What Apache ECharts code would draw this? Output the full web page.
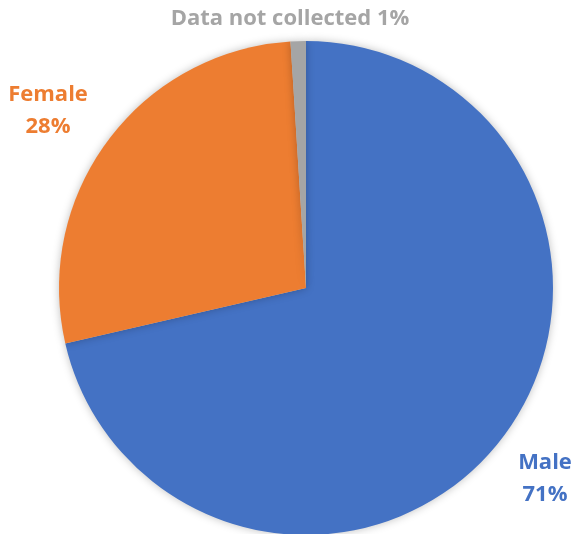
<!DOCTYPE html>
<html>
<head>
<meta charset="utf-8">
<script src="https://cdn.jsdelivr.net/npm/echarts@6/dist/echarts.min.js"></script>
<style>html,body{margin:0;padding:0;background:#fff;}#c{width:573px;height:534px;}</style>
</head>
<body>
<div id="c"></div>
<script>
const categories = ['Male', 'Female', 'Data not collected'];
const values = [71.4, 27.6, 1.0];
const colors = ['#4472C4', '#ED7D31', '#A5A5A5'];

const labelPos = [[545, 479], [48, 111], [290, 19]];

const chart = echarts.init(document.getElementById('c'));
chart.setOption({
  animation: false,
  series: [{
    type: 'pie',
    center: [306, 288],
    radius: 247,
    startAngle: 90,
    clockwise: true,
    data: categories.map((n, i) => ({
      name: n, value: values[i],
      itemStyle: { color: colors[i] },
      label: { color: colors[i] }
    })),
    itemStyle: { borderWidth: 0, shadowBlur: 8, shadowColor: 'rgba(0,0,0,0.25)' },
    label: {
      show: true,
      fontFamily: 'Open Sans',
      fontWeight: 'bold',
      fontSize: 22,
      lineHeight: 32,
      align: 'center',
      overflow: 'none',
      width: 400,
      formatter: p => {
        const pct = Math.round(p.value) + '%';
        return p.dataIndex === 2 ? p.name + ' ' + pct : p.name + '\n' + pct;
      }
    },
    labelLine: { show: false },
    labelLayout: p => ({ x: labelPos[p.dataIndex][0], y: labelPos[p.dataIndex][1], align: 'center', verticalAlign: 'middle' })
  }]
});
</script>
</body>
</html>
